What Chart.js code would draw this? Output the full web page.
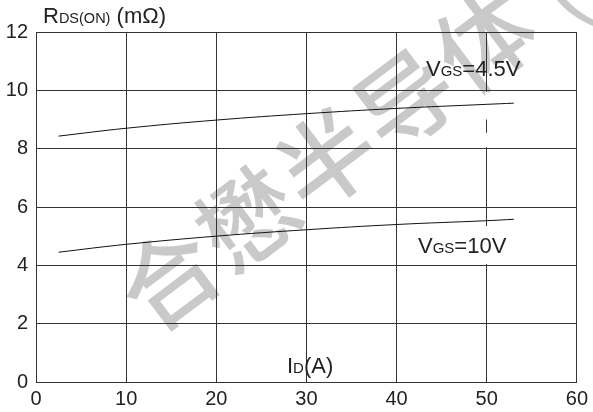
<!DOCTYPE html>
<html>
<head>
<meta charset="utf-8">
<script src="https://cdn.jsdelivr.net/npm/chart.js@4"></script>
<style>
  html, body { margin: 0; padding: 0; background: #fff; }
  #wrap { width: 593px; height: 412px; }
</style>
</head>
<body>
<div id="wrap"><canvas id="rdson"></canvas></div>
<script>
// drain current (A) and on-resistance (mOhm)
const idAmps = [2.5, 10, 20, 30, 40, 50, 53];
const rdsVgs45 = [8.43, 8.70, 8.98, 9.20, 9.38, 9.52, 9.56];
const rdsVgs10 = [4.45, 4.72, 5.00, 5.22, 5.40, 5.53, 5.58];
const xTicks = [0, 10, 20, 30, 40, 50, 60];
const yTicks = [0, 2, 4, 6, 8, 10, 12];

const toPoints = (xs, ys) => xs.map((x, i) => ({ x: x, y: ys[i] }));
const FONT = '"Liberation Sans", Arial, sans-serif';

// draws text like "V" + small "GS" + "=4.5V"
function drawParts(ctx, x, y, parts) {
    let cx = x;
    parts.forEach(p => {
        ctx.font = p[1] + 'px ' + FONT;
        ctx.fillText(p[0], cx, y);
        cx += ctx.measureText(p[0]).width;
    });
    return cx - x;
}
function measureParts(ctx, parts) {
    let w = 0;
    parts.forEach(p => {
        ctx.font = p[1] + 'px ' + FONT;
        w += ctx.measureText(p[0]).width;
    });
    return w;
}

const watermark = {
    id: 'watermark',
    beforeDraw(chart) {
        const ctx = chart.ctx;
        ctx.save();
        ctx.translate(328, 158);
        ctx.rotate(-37 * Math.PI / 180);
        ctx.fillStyle = '#c9c9c9';
        ctx.font = '500 96px "Noto Sans CJK SC"';
        ctx.textBaseline = 'middle';
        ctx.textAlign = 'left';
        const chars = ['合', '懋', '半', '导', '体'];
        chars.forEach((c, i) => {
            ctx.fillText(c, -248 + i * 99, 0);
        });
        ctx.font = '96px "Noto Sans CJK SC"';
        ctx.fillText('(', -248 + 5 * 99 + 22, 0);
        ctx.restore();
    }
};

// little gaps in the x=50 grid line, as in the original scan
const gridGaps = {
    id: 'gridGaps',
    beforeDatasetsDraw(chart) {
        const ctx = chart.ctx;
        const x = chart.scales.x.getPixelForValue(50);
        const y = chart.scales.y;
        ctx.save();
        ctx.strokeStyle = '#fff';
        ctx.lineWidth = 3;
        ctx.beginPath();
        ctx.moveTo(x, y.getPixelForValue(9.95));
        ctx.lineTo(x, y.getPixelForValue(9.0));
        ctx.moveTo(x, y.getPixelForValue(8.55));
        ctx.lineTo(x, y.getPixelForValue(8.05));
        ctx.stroke();
        ctx.restore();
    }
};

const labels = {
    id: 'labels',
    afterDraw(chart) {
        const ctx = chart.ctx;
        ctx.save();
        ctx.fillStyle = '#222';
        ctx.textBaseline = 'alphabetic';
        ctx.textAlign = 'left';

        // y axis title
        drawParts(ctx, 43, 23, [['R', 22], ['DS(ON)', 14.5], [' (m\u03A9)', 22]]);

        // VGS=4.5V, grid shows through
        drawParts(ctx, 426, 76, [['V', 22], ['GS', 15], ['=4.5V', 22]]);

        // VGS=10V on a white box
        const p10 = [['V', 22], ['GS', 15], ['=10V', 22]];
        const w10 = measureParts(ctx, p10);
        ctx.fillStyle = '#fff';
        ctx.fillRect(412, 226, w10 + 10, 38);
        ctx.fillStyle = '#222';
        drawParts(ctx, 418, 253, p10);

        // x axis title
        drawParts(ctx, 287, 373, [['I', 22], ['D', 15], ['(A)', 22]]);
        ctx.restore();
    }
};

new Chart(document.getElementById('rdson'), {
    type: 'scatter',
    data: {
        datasets: [{
            label: 'VGS=4.5V',
            data: toPoints(idAmps, rdsVgs45),
            showLine: true,
            borderColor: '#111',
            borderWidth: 1,
            pointRadius: 0,
            tension: 0.4,
            fill: false
        }, {
            label: 'VGS=10V',
            data: toPoints(idAmps, rdsVgs10),
            showLine: true,
            borderColor: '#111',
            borderWidth: 1,
            pointRadius: 0,
            tension: 0.4,
            fill: false
        }]
    },
    options: {
        responsive: true,
        maintainAspectRatio: false,
        animation: false,
        layout: { padding: { top: 32, right: 12, left: 0, bottom: 0 } },
        plugins: {
            legend: { display: false },
            tooltip: { enabled: false }
        },
        scales: {
            x: {
                type: 'linear',
                min: 0,
                max: 60,
                afterBuildTicks: s => { s.ticks = xTicks.map(v => ({ value: v })); },
                afterFit: s => { s.height = 30; },
                grid: { color: '#333', lineWidth: 1, drawTicks: false },
                border: { color: '#333', width: 1 },
                ticks: {
                    color: '#222',
                    padding: 5,
                    maxRotation: 0,
                    font: { family: FONT, size: 20 }
                }
            },
            y: {
                type: 'linear',
                min: 0,
                max: 12,
                afterBuildTicks: s => { s.ticks = yTicks.map(v => ({ value: v })); },
                afterFit: s => { s.width = 36; },
                grid: { color: '#333', lineWidth: 1, drawTicks: false },
                border: { color: '#333', width: 1 },
                ticks: {
                    color: '#222',
                    padding: 8,
                    font: { family: FONT, size: 20 }
                }
            }
        }
    },
    plugins: [watermark, gridGaps, labels]
});
</script>
</body>
</html>
